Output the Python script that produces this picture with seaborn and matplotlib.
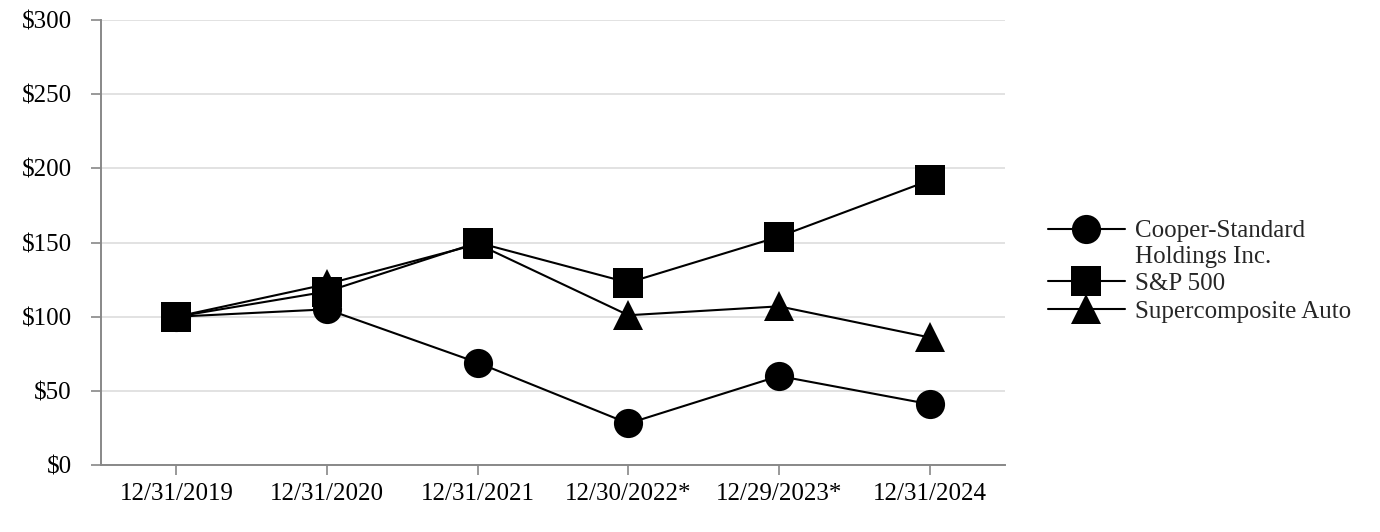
import pandas as pd
import numpy as np
import matplotlib.pyplot as plt
import seaborn as sns
from matplotlib.legend_handler import HandlerLine2D

# Data
dates = ['12/31/2019', '12/31/2020', '12/31/2021', '12/30/2022*', '12/29/2023*', '12/31/2024']
cooper = [100, 105, 69, 28, 60, 41]
sp500 = [100, 117, 150, 123, 154, 192]
auto = [100, 122, 149, 101, 107, 86]

names = ['Cooper-Standard\nHoldings Inc.', 'S&P 500', 'Supercomposite Auto']

df = pd.DataFrame({
    'date': dates * 3,
    'value': cooper + sp500 + auto,
    'series': [names[0]] * 6 + [names[1]] * 6 + [names[2]] * 6,
})
df['x'] = df['date'].map({d: i for i, d in enumerate(dates)})

sns.set_style('white')
plt.rcParams['font.family'] = ['Liberation Serif', 'DejaVu Serif']
fs = 18


# handle of the two-line label sits on its first line
class TopLine(HandlerLine2D):
    def create_artists(self, legend, orig_handle, xdescent, ydescent,
                       width, height, fontsize, trans):
        return super().create_artists(legend, orig_handle, xdescent,
                                      ydescent - 1.2 * fontsize,
                                      width, height, fontsize, trans)


fig = plt.figure(figsize=(13.8, 5.32), dpi=100)
ax = fig.add_axes([0.0732, 0.126, 0.6551, 0.836])

sns.lineplot(data=df, x='x', y='value', hue='series', style='series',
             palette=['black'] * 3, markers=['o', 's', '^'], dashes=False,
             markersize=21, linewidth=1.5, markeredgewidth=0, ax=ax, legend=True)

# Axes
ax.set_xlim(-0.5, 5.5)
ax.set_ylim(0, 300)
ax.set_xticks(range(len(dates)))
ax.set_xticklabels(dates)
ax.set_yticks(range(0, 301, 50))
ax.set_yticklabels(['$' + str(v) for v in range(0, 301, 50)])
ax.set_xlabel('')
ax.set_ylabel('')
ax.tick_params(axis='both', bottom=True, left=True, labelsize=fs,
               colors='#888888', labelcolor='black',
               length=7, width=1.2, direction='out')
ax.tick_params(axis='y', pad=14)
ax.tick_params(axis='x', pad=6)
ax.grid(axis='y', color='#e2e2e2', linewidth=1.4)
ax.set_axisbelow(True)
for s in ['top', 'right']:
    ax.spines[s].set_visible(False)
for s in ['left', 'bottom']:
    ax.spines[s].set_color('#888888')
    ax.spines[s].set_linewidth(1.4)

# Legend
handles, labels = ax.get_legend_handles_labels()
ax.legend_.remove()
for h in handles:
    h.set_markersize(21)
    h.set_linewidth(1.5)
leg = fig.legend(handles, labels, loc='center left', bbox_to_anchor=(0.750, 0.49),
                 frameon=False, fontsize=fs, handlelength=3.1, handletextpad=0.4,
                 labelspacing=0.2, borderpad=0, handler_map={handles[0]: TopLine()})
for t in leg.get_texts():
    t.set_linespacing(1.2)

fig.savefig('out.png', dpi=100)
